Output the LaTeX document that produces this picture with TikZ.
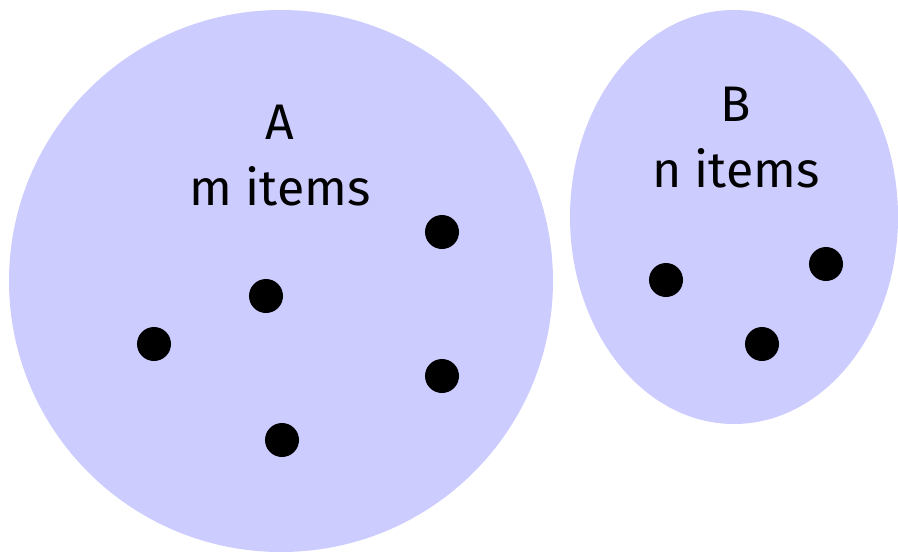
\documentclass[tikz,border=0pt]{standalone}
\usepackage{fontspec}
\setmainfont{Fira Sans}
\definecolor{setfill}{HTML}{CCCCFF}
\begin{document}
\begin{tikzpicture}[x=1pt,y=-1pt,
  setshape/.style={draw=none,fill=setfill},
  itemdot/.style={circle,fill=black,inner sep=0pt,minimum size=34pt},
  lbl/.style={font=\fontsize{50}{56}\selectfont,inner sep=0pt,align=center}]
\useasboundingbox (0,0) rectangle (898,552);
\fill[setshape] (281,281) ellipse [x radius=272,y radius=271];
\fill[setshape] (734,217) ellipse [x radius=164,y radius=207];
\node[lbl] (la) at (280,122) {A};
\node[lbl] (lm) at (280,186) {m items};
\node[lbl] (lb) at (736,104) {B};
\node[lbl] (ln) at (736,168) {n items};
\node[itemdot] (a1) at (442,232) {};
\node[itemdot] (a2) at (266,296) {};
\node[itemdot] (a3) at (154,344) {};
\node[itemdot] (a4) at (442,376) {};
\node[itemdot] (a5) at (282,440) {};
\node[itemdot] (b1) at (666,280) {};
\node[itemdot] (b2) at (826,264) {};
\node[itemdot] (b3) at (762,344) {};
\end{tikzpicture}
\end{document}
